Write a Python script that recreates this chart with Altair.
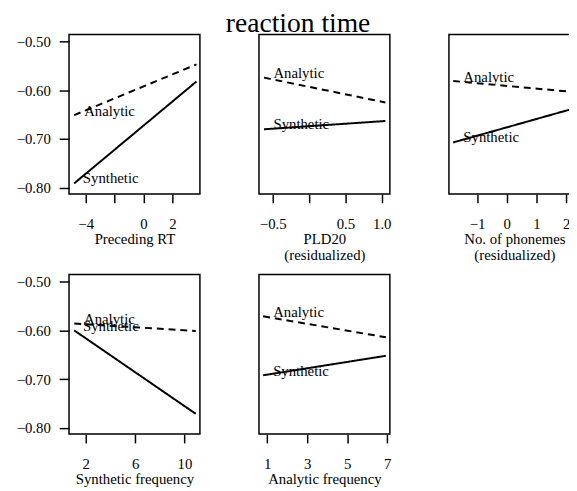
import altair as alt
import pandas as pd

FONT = "Liberation Serif"

series = ["Analytic", "Synthetic"]
x_titles = ["Preceding RT", ["PLD20", "(residualized)"], ["No. of phonemes", "(residualized)"],
            "Synthetic frequency", "Analytic frequency"]

# line end points per panel
x_start = [-4.80, -0.62, -1.80, 1.07, 0.80]
x_end = [3.66, 1.05, 2.33, 10.91, 6.93]
analytic_start = [-0.651, -0.574, -0.581, -0.586, -0.571]
analytic_end = [-0.547, -0.625, -0.604, -0.601, -0.614]
synthetic_start = [-0.791, -0.680, -0.707, -0.600, -0.692]
synthetic_end = [-0.582, -0.663, -0.636, -0.771, -0.652]

# direct label positions
label_x_analytic = [-4.11, -0.49, -1.46, 1.86, 1.30]
label_y_analytic = [-0.643, -0.565, -0.573, -0.576, -0.562]
label_x_synthetic = [-4.20, -0.49, -1.46, 1.78, 1.30]
label_y_synthetic = [-0.780, -0.670, -0.697, -0.591, -0.683]

x_domains = [[-5.155, 3.9], [-0.689, 1.112], [-1.944, 2.457], [0.644, 11.25], [0.591, 7.128]]
x_ticks = [[-4, -2, 0, 2], [-0.5, 0, 0.5, 1.0], [-1, 0, 1, 2], [2, 4, 6, 8, 10], [1, 2, 3, 4, 5, 6, 7]]
x_tick_labels = [["−4", "", "0", "2"], ["−0.5", "", "0.5", "1.0"], ["−1", "0", "1", "2"],
                 ["2", "4", "6", "8", "10"], ["1", "", "3", "", "5", "", "7"]]
y_ticks = [-0.80, -0.75, -0.70, -0.65, -0.60, -0.55, -0.50]
y_domain = [-0.8125, -0.4855]
show_y_axis = [True, False, False, True, False]


def label_expr(values, labels):
    expr = "''"
    for v, lab in reversed(list(zip(values, labels))):
        expr = f"abs(datum.value - ({v})) < 1e-9 ? '{lab}' : ({expr})"
    return expr


panels = []
for i in range(5):
    line_df = pd.DataFrame({
        "x": [x_start[i], x_end[i], x_start[i], x_end[i]],
        "y": [analytic_start[i], analytic_end[i], synthetic_start[i], synthetic_end[i]],
        "series": ["Analytic", "Analytic", "Synthetic", "Synthetic"],
    })
    text_df = pd.DataFrame({
        "x": [label_x_analytic[i], label_x_synthetic[i]],
        "y": [label_y_analytic[i], label_y_synthetic[i]],
        "series": series,
    })
    xenc = alt.X("x:Q",
                 scale=alt.Scale(domain=x_domains[i], nice=False, zero=False),
                 axis=alt.Axis(values=x_ticks[i], labelExpr=label_expr(x_ticks[i], x_tick_labels[i]),
                               title=x_titles[i], tickSize=9, labelPadding=14, titlePadding=0,
                               grid=False, domain=False, labelFlush=False, labelOverlap=False))
    if show_y_axis[i]:
        yaxis = alt.Axis(values=y_ticks, format=".2f", title=None, tickSize=10, labelPadding=9,
                         grid=False, domain=False, labelOverlap=False)
    else:
        yaxis = None
    yenc = alt.Y("y:Q", scale=alt.Scale(domain=y_domain, nice=False, zero=False), axis=yaxis)

    lines = alt.Chart(line_df).mark_line(color="black", strokeWidth=2).encode(
        x=xenc, y=yenc,
        detail="series:N",
        strokeDash=alt.StrokeDash("series:N", scale=alt.Scale(domain=series, range=[[7, 5], [1, 0]]),
                                  legend=None),
    )
    texts = alt.Chart(text_df).mark_text(align="left", baseline="middle", font=FONT, fontSize=15,
                                         color="black").encode(
        x=alt.X("x:Q"), y=alt.Y("y:Q"), text="series:N")
    panels.append(alt.layer(lines, texts).properties(width=133, height=162))

chart = alt.concat(*panels, columns=3, spacing={"row": 82, "column": 60}, bounds="flush").properties(
    title=alt.Title("reaction time", font=FONT, fontSize=28, fontWeight="normal", anchor="middle",
                    color="black", offset=-4),
    padding={"left": 7, "top": -2, "right": -12, "bottom": 0},
).configure_view(stroke="black", strokeWidth=1.5).configure_axis(
    labelFont=FONT, titleFont=FONT, labelFontSize=15, titleFontSize=15, titleFontWeight="normal",
    labelColor="black", titleColor="black", tickColor="black", tickWidth=1.5,
)

chart.save("out.html", embed_options={"renderer": "svg", "actions": False})
